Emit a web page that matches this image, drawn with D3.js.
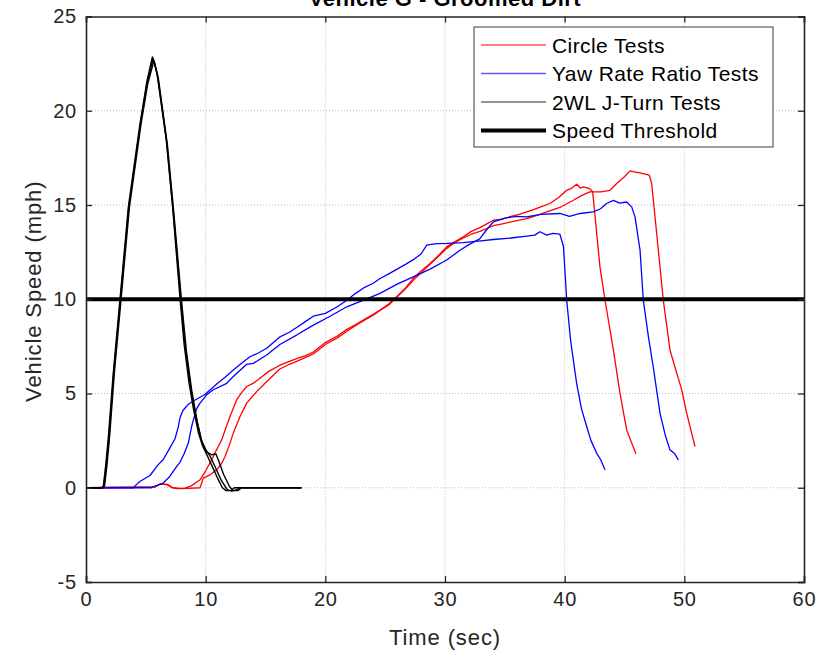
<!DOCTYPE html>
<html>
<head>
<meta charset="utf-8">
<script src="https://cdn.jsdelivr.net/npm/d3@7"></script>
<style>
  html, body { margin: 0; padding: 0; background: #fff; }
  svg { display: block; font-family: "Liberation Sans", Arial, Helvetica, sans-serif; }
</style>
</head>
<body>
<svg id="chart" width="831" height="656"></svg>
<script>
// ---- Data (time in sec, speed in mph) ----
const titleText = "Vehicle G - Groomed Dirt";
const xLabel = "Time (sec)";
const yLabel = "Vehicle Speed (mph)";
const xTicks = [0, 10, 20, 30, 40, 50, 60];
const yTicks = [-5, 0, 5, 10, 15, 20, 25];
const seriesNames = ["Circle Tests", "Yaw Rate Ratio Tests", "2WL J-Turn Tests", "Speed Threshold"];
const speedThreshold = 10;

const circleTest1 = [[0,0],[5.8,0.05],[6.2,0.2],[6.8,0.18],[7.2,0.02],[7.6,-0.05],[8.27,-0.02],[8.8,0.1],[9.53,0.42],[10.0,0.9],[10.5,1.48],[10.9,2.0],[11.34,2.54],[11.7,3.2],[12.03,3.78],[12.59,4.66],[13.0,5.05],[13.43,5.37],[14.0,5.55],[14.54,5.81],[15.24,6.16],[16.2,6.5],[17.0,6.7],[17.6,6.85],[18.3,7.0],[19.0,7.2],[20.0,7.7],[21.0,8.05],[21.8,8.4],[22.5,8.65],[23.17,8.9],[24.0,9.2],[24.57,9.43],[25.3,9.75],[25.96,10.13],[26.7,10.6],[27.35,11.1],[28.0,11.5],[28.75,11.9],[29.5,12.35],[30.14,12.78],[30.8,13.05],[31.53,13.31],[32.2,13.6],[32.92,13.8],[33.5,14.0],[34.04,14.19],[34.8,14.25],[35.5,14.4],[36.2,14.5],[36.83,14.64],[37.4,14.75],[38.0,14.9],[38.77,15.08],[39.5,15.4],[40.17,15.78],[40.6,15.9],[41.0,16.1],[41.3,15.9],[41.56,15.96],[42.1,15.87],[42.34,15.7],[42.6,14.0],[42.95,11.72],[43.37,9.96],[44.07,7.31],[44.62,5.02],[45.18,3.07],[45.6,2.37],[45.96,1.8]];
const circleTest2 = [[0,0],[5.8,0.05],[6.2,0.2],[6.8,0.15],[7.2,0.0],[8.0,-0.05],[9.53,0.0],[9.8,0.51],[10.4,0.7],[10.92,0.95],[11.3,1.25],[11.62,1.66],[12.0,2.3],[12.31,2.9],[12.87,3.78],[13.43,4.49],[14.26,5.1],[15.24,5.72],[16.2,6.3],[17.0,6.55],[17.6,6.7],[18.3,6.9],[19.0,7.1],[20.0,7.6],[21.0,7.95],[21.8,8.3],[22.5,8.6],[23.17,8.85],[24.0,9.15],[24.57,9.4],[25.3,9.7],[25.96,10.1],[26.7,10.55],[27.35,11.0],[28.0,11.4],[28.75,11.85],[29.5,12.3],[30.14,12.7],[30.8,13.0],[31.53,13.25],[32.2,13.45],[32.92,13.6],[34.04,13.9],[34.8,14.0],[35.5,14.1],[36.2,14.2],[36.83,14.28],[37.7,14.45],[38.5,14.64],[39.6,14.87],[40.72,15.25],[41.4,15.5],[42.1,15.7],[43.0,15.7],[43.79,15.78],[44.35,16.14],[45.0,16.5],[45.46,16.81],[45.9,16.75],[46.3,16.7],[47.07,16.58],[47.27,16.14],[47.69,13.49],[48.24,9.96],[48.8,7.31],[49.78,5.19],[50.2,3.95],[50.89,2.19]];

const yawTest1 = [[0,0],[4.0,0],[4.1,0.1],[4.5,0.33],[5.35,0.65],[6.0,1.2],[6.46,1.5],[7.0,2.1],[7.44,2.6],[7.7,3.2],[7.85,3.7],[8.1,4.1],[8.5,4.4],[8.97,4.6],[9.94,4.95],[10.92,5.5],[11.6,5.85],[12.31,6.25],[13.0,6.6],[13.7,6.95],[14.4,7.15],[15.1,7.4],[16.2,8.0],[17.0,8.25],[17.6,8.5],[18.3,8.8],[19.0,9.1],[20.0,9.25],[21.0,9.6],[21.8,9.95],[22.5,10.3],[23.2,10.6],[24.0,10.85],[24.57,11.1],[25.3,11.35],[26.0,11.6],[26.7,11.85],[27.35,12.1],[28.0,12.4],[28.47,12.87],[29.3,12.95],[30.14,12.96],[31.5,13.0],[33.0,13.1],[34.04,13.17],[35.5,13.25],[36.83,13.35],[37.5,13.4],[37.94,13.58],[38.5,13.4],[39.0,13.5],[39.6,13.45],[39.9,12.8],[40.17,9.96],[40.5,7.8],[41.0,5.54],[41.4,4.2],[41.84,3.25],[42.2,2.5],[42.67,1.84],[43.0,1.5],[43.37,0.95]];
const yawTest2 = [[0,0],[5.5,0],[5.6,0.05],[6.46,0.25],[7.0,0.6],[7.58,1.13],[7.85,1.35],[8.2,1.8],[8.55,2.37],[8.83,3.25],[8.97,3.6],[9.25,4.2],[9.53,4.49],[10.08,4.93],[10.64,5.2],[11.76,5.54],[12.31,5.9],[13.43,6.55],[13.98,6.6],[15.1,7.04],[16.2,7.6],[17.6,8.1],[19.0,8.63],[20.4,9.1],[21.8,9.6],[23.2,9.95],[24.57,10.31],[26.0,10.8],[27.35,11.19],[28.75,11.6],[30.14,12.08],[31.25,12.6],[32.0,12.9],[32.9,13.2],[33.5,13.7],[34.04,14.1],[35.0,14.3],[36.0,14.4],[36.83,14.37],[38.0,14.5],[39.6,14.55],[40.4,14.4],[41.3,14.55],[42.4,14.64],[43.0,14.8],[43.5,15.08],[44.07,15.25],[44.6,15.1],[45.18,15.16],[45.6,14.9],[45.88,14.37],[46.3,12.6],[46.57,9.96],[47.0,8.0],[47.4,6.42],[47.97,3.95],[48.4,2.8],[48.8,2.01],[49.2,1.8],[49.5,1.48]];

const jturnTest1 = [[0,0],[1.3,0],[1.45,0.1],[1.65,1.2],[1.87,2.7],[2.28,6.1],[2.84,10],[3.54,14.9],[4.51,19.3],[5.1,21.6],[5.55,22.85],[5.65,22.7],[5.95,21.9],[6.7,18.5],[7.25,14.8],[7.85,10.1],[8.2,7.6],[8.6,5.6],[9.0,4.1],[9.4,2.9],[9.75,2.2],[10.1,1.75],[10.5,1.2],[11.0,0.5],[11.4,0.0],[11.7,-0.15],[12.1,-0.15],[12.4,0],[18,0]];
const jturnTest2 = [[0,0],[1.35,0],[1.5,0.1],[1.7,1.2],[1.92,2.7],[2.32,6.1],[2.88,10],[3.58,14.9],[4.55,19.3],[5.12,21.5],[5.6,22.75],[5.7,22.6],[6.0,21.8],[6.75,18.3],[7.3,14.6],[7.92,10],[8.3,7.4],[8.75,5.3],[9.2,3.7],[9.6,2.6],[10.0,2.0],[10.35,1.7],[10.8,1.1],[11.3,0.4],[11.8,-0.1],[12.2,-0.18],[12.6,-0.1],[12.9,0],[18,0]];
const jturnTest3 = [[0,0],[1.4,0],[1.55,0.1],[1.75,1.2],[1.97,2.7],[2.37,6.1],[2.93,10],[3.63,14.9],[4.6,19.3],[5.15,21.4],[5.65,22.6],[5.75,22.5],[6.05,21.7],[6.8,18.2],[7.35,14.5],[7.97,10],[8.4,7.2],[8.85,5.1],[9.3,3.5],[9.7,2.4],[10.1,1.9],[10.5,1.75],[10.85,1.8],[11.1,1.4],[11.5,0.7],[12.0,0.05],[12.3,-0.15],[12.7,-0.15],[13.0,0],[18,0]];

// ---- Layout ----
const svg = d3.select("#chart");
const L = 86, R = 804, T = 16.5, B = 582;
const x = d3.scaleLinear().domain([0, 60]).range([L, R]);
const y = d3.scaleLinear().domain([-5, 25]).range([B, T]);
const axisColor = "#262626";

// grid
const grid = svg.append("g");
grid.selectAll("line.gx").data(xTicks.slice(1, -1)).enter().append("line")
  .attr("x1", d => x(d)).attr("x2", d => x(d)).attr("y1", T).attr("y2", B)
  .attr("stroke", "#bdbdbd").attr("stroke-width", 1).attr("stroke-dasharray", "1,2");
grid.selectAll("line.gy").data(yTicks.slice(1, -1)).enter().append("line")
  .attr("y1", d => y(d)).attr("y2", d => y(d)).attr("x1", L).attr("x2", R)
  .attr("stroke", "#bdbdbd").attr("stroke-width", 1).attr("stroke-dasharray", "1,2");

// lines
const line = d3.line().x(d => x(d[0])).y(d => y(d[1]));
const plotG = svg.append("g");
[circleTest1, circleTest2].forEach(s => plotG.append("path").attr("d", line(s))
  .attr("fill", "none").attr("stroke", "#ff0000").attr("stroke-width", 1.3).attr("stroke-linejoin", "round"));
[yawTest1, yawTest2].forEach(s => plotG.append("path").attr("d", line(s))
  .attr("fill", "none").attr("stroke", "#0000ff").attr("stroke-width", 1.3).attr("stroke-linejoin", "round"));
[jturnTest1, jturnTest2, jturnTest3].forEach(s => plotG.append("path").attr("d", line(s))
  .attr("fill", "none").attr("stroke", "#000000").attr("stroke-width", 1.4).attr("stroke-linejoin", "round"));
plotG.append("path").attr("d", line([[0, speedThreshold], [60, speedThreshold]]))
  .attr("fill", "none").attr("stroke", "#000").attr("stroke-width", 4);

// axes (box with inward ticks)
const tickLen = 6;
const plainFmt = d => String(d);
const xAxisB = d3.axisBottom(x).tickValues(xTicks).tickSize(-tickLen).tickPadding(10).tickFormat(plainFmt);
const xAxisT = d3.axisTop(x).tickValues(xTicks).tickSize(-tickLen).tickFormat("");
const yAxisL = d3.axisLeft(y).tickValues(yTicks).tickSize(-tickLen).tickPadding(9).tickFormat(plainFmt);
const yAxisR = d3.axisRight(y).tickValues(yTicks).tickSize(-tickLen).tickFormat("");

function styleAxis(g) {
  g.select(".domain").attr("stroke", axisColor).attr("stroke-width", 1.6);
  g.selectAll(".tick line").attr("stroke", axisColor).attr("stroke-width", 1.3);
  g.selectAll(".tick text").attr("fill", axisColor).attr("font-size", 20)
    .attr("font-family", '"Liberation Sans", Arial, sans-serif').style("letter-spacing", "0.8px");
}
svg.append("g").attr("transform", `translate(0,${B})`).call(xAxisB).call(styleAxis);
svg.append("g").attr("transform", `translate(0,${T})`).call(xAxisT).call(styleAxis);
svg.append("g").attr("transform", `translate(${L},0)`).call(yAxisL).call(styleAxis);
svg.append("g").attr("transform", `translate(${R},0)`).call(yAxisR).call(styleAxis);

// labels
svg.append("text").attr("x", (L + R) / 2).attr("y", 645).attr("text-anchor", "middle")
  .attr("font-size", 22).attr("fill", axisColor).style("letter-spacing", "0.9px").text(xLabel);
svg.append("text").attr("transform", `translate(41,${(T + B) / 2 - 8}) rotate(-90)`).attr("text-anchor", "middle")
  .attr("font-size", 22).attr("fill", axisColor).style("letter-spacing", "0.9px").text(yLabel);
svg.append("text").attr("x", (L + R) / 2).attr("y", 6).attr("text-anchor", "middle")
  .attr("font-size", 22).attr("font-weight", "bold").attr("fill", "#000").style("letter-spacing", "0.5px").text(titleText);

// legend
const lg = svg.append("g");
lg.append("rect").attr("x", 474).attr("y", 27).attr("width", 299).attr("height", 120)
  .attr("fill", "#fff").attr("stroke", "#3a3a3a").attr("stroke-width", 1);
const legendStyles = [
  { color: "#ff0000", width: 1.2 },
  { color: "#5c5cff", width: 1.6 },
  { color: "#262626", width: 1.1 },
  { color: "#000000", width: 4 }
];
seriesNames.forEach((name, i) => {
  const cy = 45 + i * 28.5;
  lg.append("line").attr("x1", 481).attr("x2", 546).attr("y1", cy).attr("y2", cy)
    .attr("stroke", legendStyles[i].color).attr("stroke-width", legendStyles[i].width);
  lg.append("text").attr("x", 552).attr("y", cy + 7.5).attr("font-size", 21)
    .attr("fill", "#000").style("letter-spacing", "0.4px").text(name);
});
</script>
</body>
</html>
